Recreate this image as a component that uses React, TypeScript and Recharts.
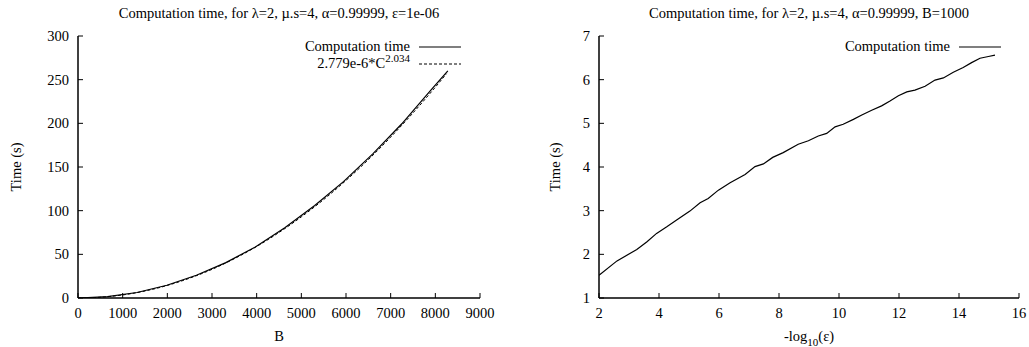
import { LineChart, Line, XAxis, YAxis, Label } from "recharts";

// left panel: time vs B
const sizeB = [0, 660, 1320, 1990, 2650, 3310, 3970, 4630, 5300, 5950, 6600, 7250, 7900, 8280];
const compTimeB = [0, 1.6, 6.3, 14.6, 26.0, 40.5, 58.5, 80.5, 106, 133.5, 165, 199.5, 238, 260];
const fitB = [0, 500, 1000, 1500, 2000, 2500, 3000, 3500, 4000, 4500, 5000, 5500, 6000, 6500, 7000, 7500, 8000, 8250];
const fitTimeB = [0, 0.86, 3.5, 8.0, 14.4, 22.7, 32.8, 45.0, 59.0, 75.0, 92.9, 112.7, 134.6, 158.4, 184.2, 211.9, 241.4, 256.8];
const ticksB = [0, 1000, 2000, 3000, 4000, 5000, 6000, 7000, 8000, 9000];
const ticksTimeB = [0, 50, 100, 150, 200, 250, 300];

// right panel: time vs -log10(eps)
const epsLog = [2.0, 2.6, 3.26, 3.6, 3.92, 4.26, 4.6, 5.03, 5.37, 5.64, 5.98, 6.37, 6.87, 7.2, 7.48, 7.79, 8.14, 8.64, 8.98, 9.31, 9.59, 9.87, 10.14, 10.48, 10.76, 11.09, 11.42, 11.7, 11.98, 12.26, 12.53, 12.87, 13.2, 13.48, 13.81, 14.14, 14.42, 14.7, 14.98, 15.2];
const compTimeEps = [1.52, 1.85, 2.11, 2.29, 2.48, 2.63, 2.79, 2.99, 3.18, 3.28, 3.47, 3.64, 3.83, 4.01, 4.07, 4.22, 4.33, 4.52, 4.6, 4.71, 4.77, 4.92, 4.98, 5.09, 5.19, 5.3, 5.4, 5.51, 5.63, 5.72, 5.76, 5.85, 5.99, 6.04, 6.17, 6.28, 6.39, 6.49, 6.53, 6.56];
const ticksEps = [2, 4, 6, 8, 10, 12, 14, 16];
const ticksTimeEps = [1, 2, 3, 4, 5, 6, 7];

const font = "Liberation Serif, Times New Roman, serif";
const fs = 14.5;
const axisLine = { stroke: "#000", strokeWidth: 1.5 };
const tickLine = { stroke: "#000", strokeWidth: 1 };

const compLeft = sizeB.map((b, i) => ({ x: b, y: compTimeB[i] }));
const fitLeft = fitB.map((b, i) => ({ x: b, y: fitTimeB[i] }));
const compRight = epsLog.map((e, i) => ({ x: e, y: compTimeEps[i] }));

const BottomTick = (p: any) => (
  <text x={p.x} y={p.y} dy="0.71em" textAnchor="middle" fill="#000" fontSize={fs} fontFamily={font}>
    {p.payload.value}
  </text>
);
const LeftTick = (p: any) => (
  <text x={p.x} y={p.y} dy="0.355em" textAnchor="end" fill="#000" fontSize={fs} fontFamily={font}>
    {p.payload.value}
  </text>
);
const NoTick = () => <g />;

function frame(
  xDomain: number[],
  yDomain: number[],
  xTicks: number[],
  yTicks: number[],
  xTitle: any,
  yTitleX: number
) {
  return [
    <XAxis key="xb" xAxisId="b" type="number" dataKey="x" domain={xDomain} ticks={xTicks} interval={0}
      allowDataOverflow height={30} tickSize={-5} tickMargin={15}
      axisLine={axisLine} tickLine={tickLine} tick={BottomTick}>
      <Label content={(p: any) => {
        const vb = p.viewBox;
        return (
          <text x={vb.x + vb.width / 2} y={341} textAnchor="middle" fill="#000" fontSize={fs} fontFamily={font}>
            {xTitle}
          </text>
        );
      }} />
    </XAxis>,
    <XAxis key="xt" xAxisId="t" orientation="top" type="number" domain={xDomain} ticks={xTicks} interval={0}
      allowDataOverflow height={0} tickSize={-5}
      axisLine={axisLine} tickLine={tickLine} tick={NoTick} />,
    <YAxis key="yl" yAxisId="l" type="number" domain={yDomain} ticks={yTicks} interval={0}
      allowDataOverflow width={50} tickSize={-5} tickMargin={14}
      axisLine={axisLine} tickLine={tickLine} tick={LeftTick}>
      <Label content={(p: any) => {
        const vb = p.viewBox;
        const cy = vb.y + vb.height / 2;
        return (
          <text x={yTitleX} y={cy} transform={`rotate(-90 ${yTitleX} ${cy})`} textAnchor="middle"
            dominantBaseline="central" fill="#000" fontSize={fs} fontFamily={font}>
            Time (s)
          </text>
        );
      }} />
    </YAxis>,
    <YAxis key="yr" yAxisId="r" orientation="right" type="number" domain={yDomain} ticks={yTicks} interval={0}
      allowDataOverflow width={0} tickSize={-5}
      axisLine={axisLine} tickLine={tickLine} tick={NoTick} />,
  ];
}

function Title({ text, left, width }: { text: string; left: number; width: number }) {
  return (
    <div style={{ position: "absolute", left, width, top: 5, textAlign: "center", fontFamily: font,
      fontSize: fs, lineHeight: "17px", whiteSpace: "nowrap" }}>
      {text}
    </div>
  );
}

function LegendRow({ label, dash }: { label: any; dash?: string }) {
  return (
    <div style={{ display: "flex", justifyContent: "flex-end", alignItems: "center", height: 17 }}>
      <span style={{ fontFamily: font, fontSize: fs, lineHeight: "17px", whiteSpace: "nowrap" }}>{label}</span>
      <svg width={42} height={4} style={{ marginLeft: 9 }}>
        <line x1={0} x2={42} y1={2} y2={2} stroke="#000" strokeWidth={1.2} strokeDasharray={dash} />
      </svg>
    </div>
  );
}

export default function App() {
  return (
    <div style={{ position: "absolute", left: 0, top: 0, width: 1029, height: 347, background: "#fff",
      color: "#000", fontFamily: font }}>
      <div style={{ position: "absolute", left: 0, top: 0 }}>
        <LineChart width={515} height={347} margin={{ top: 36, right: 35, bottom: 19, left: 28 }}>
          {frame([0, 9000], [0, 300], ticksB, ticksTimeB, "B", 16)}
          <Line xAxisId="b" yAxisId="l" data={fitLeft} dataKey="y" type="monotone" stroke="#000"
            strokeWidth={1} strokeDasharray="3 2" dot={false} activeDot={false} isAnimationActive={false} />
          <Line xAxisId="b" yAxisId="l" data={compLeft} dataKey="y" type="linear" stroke="#000"
            strokeWidth={1.2} dot={false} activeDot={false} isAnimationActive={false} />
        </LineChart>
        <Title text="Computation time, for λ=2, µ.s=4, α=0.99999, ε=1e-06" left={78} width={402} />
        <div style={{ position: "absolute", left: 0, top: 38, width: 461 }}>
          <LegendRow label="Computation time" />
          <LegendRow dash="3 2" label={<>2.779e-6*C<sup style={{ fontSize: 11, verticalAlign: "6px", lineHeight: 0 }}>2.034</sup></>} />
        </div>
      </div>
      <div style={{ position: "absolute", left: 520, top: 0 }}>
        <LineChart width={509} height={347} margin={{ top: 36, right: 10, bottom: 19, left: 29 }}>
          {frame([2, 16], [1, 7], ticksEps, ticksTimeEps,
            <>
              <tspan>-log</tspan>
              <tspan fontSize={11} dy={5}>10</tspan>
              <tspan dy={-5}>(ε)</tspan>
            </>, 35)}
          <Line xAxisId="b" yAxisId="l" data={compRight} dataKey="y" type="linear" stroke="#000"
            strokeWidth={1.2} dot={false} activeDot={false} isAnimationActive={false} />
        </LineChart>
        <Title text="Computation time, for λ=2, µ.s=4, α=0.99999, B=1000" left={79} width={420} />
        <div style={{ position: "absolute", left: 0, top: 38, width: 481 }}>
          <LegendRow label="Computation time" />
        </div>
      </div>
    </div>
  );
}
